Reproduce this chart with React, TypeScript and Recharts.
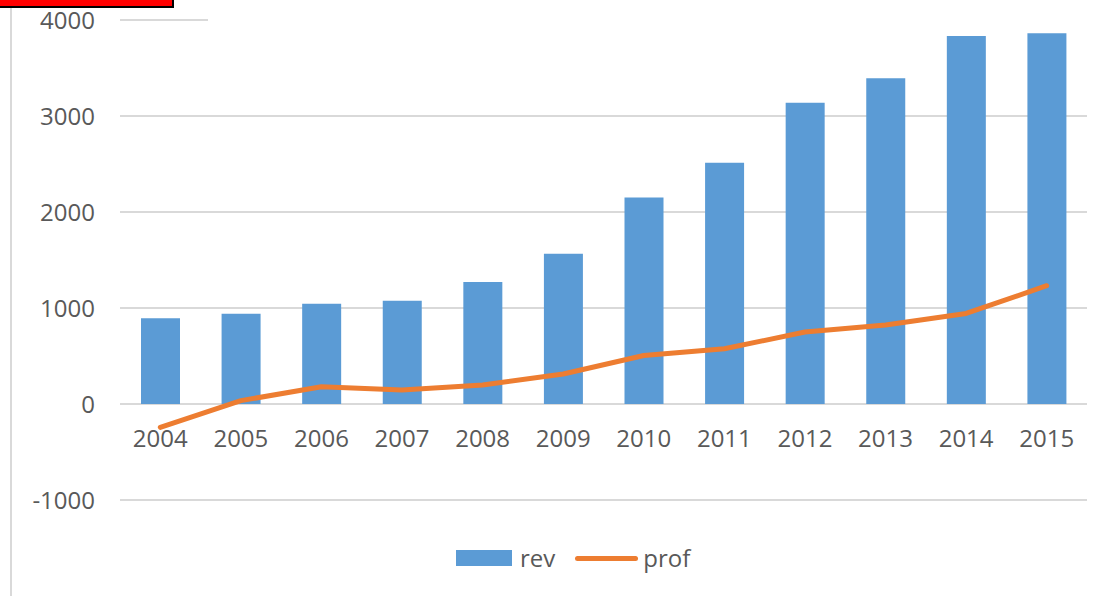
import React from 'react';
import {
  Bar,
  CartesianGrid,
  ComposedChart,
  Line,
  XAxis,
  YAxis,
} from 'recharts';

const years = ['2004', '2005', '2006', '2007', '2008', '2009', '2010', '2011', '2012', '2013', '2014', '2015'];
const rev = [893, 941, 1045, 1075, 1272, 1565, 2150, 2512, 3139, 3393, 3834, 3862];
const prof = [-243, 35, 180, 146, 198, 312, 505, 575, 750, 823, 943, 1232];
const yTicks = [-1000, 0, 1000, 2000, 3000, 4000];

const data = years.map((year, i) => ({ year, rev: rev[i], prof: prof[i] }));

const WIDTH = 1104;
const HEIGHT = 596;
const MARGIN = { top: 20, right: 17, left: 10, bottom: 66 };
const X_AXIS_H = 30;
const Y_MIN = yTicks[0];
const Y_MAX = yTicks[yTicks.length - 1];
const PLOT_H = HEIGHT - MARGIN.top - MARGIN.bottom - X_AXIS_H;
// category labels sit under the zero line, not at the bottom of the plot
const ZERO_SHIFT = (PLOT_H * (0 - Y_MIN)) / (Y_MAX - Y_MIN);

const BLUE = '#5B9BD5';
const ORANGE = '#ED7D31';
const TEXT = '#595959';
const GRID = '#D9D9D9';
const FONT = '"Open Sans", sans-serif';

const CategoryTick = (props: any) => {
  const { x, y, payload } = props;
  return (
    <text
      x={x}
      y={y - ZERO_SHIFT}
      dy="0.71em"
      textAnchor="middle"
      fill={TEXT}
      fontSize={24}
      fontFamily={FONT}
    >
      {payload.value}
    </text>
  );
};

const LegendRow = () => (
  <div
    style={{
      position: 'absolute',
      left: 456,
      top: 540,
      display: 'flex',
      alignItems: 'center',
      fontFamily: FONT,
      fontSize: 24,
      color: TEXT,
      lineHeight: '36px',
    }}
  >
    <span style={{ width: 56, height: 16, background: BLUE, display: 'inline-block' }} />
    <span style={{ marginLeft: 8 }}>rev</span>
    <span
      style={{
        marginLeft: 20,
        width: 63,
        height: 5,
        borderRadius: 3,
        background: ORANGE,
        display: 'inline-block',
      }}
    />
    <span style={{ marginLeft: 5 }}>prof</span>
  </div>
);

export default function App() {
  return (
    <div
      style={{
        position: 'absolute',
        left: 0,
        top: 0,
        width: WIDTH,
        height: HEIGHT,
        background: '#fff',
        overflow: 'hidden',
      }}
    >
      <ComposedChart width={WIDTH} height={HEIGHT} data={data} margin={MARGIN}>
        <CartesianGrid vertical={false} stroke={GRID} strokeWidth={2} />
        <XAxis
          dataKey="year"
          axisLine={false}
          tickLine={false}
          tickSize={0}
          tickMargin={26}
          height={X_AXIS_H}
          interval={0}
          tick={<CategoryTick />}
        />
        <YAxis
          domain={[Y_MIN, Y_MAX]}
          ticks={yTicks}
          axisLine={false}
          tickLine={false}
          tickSize={0}
          tickMargin={25}
          width={110}
          tick={{ fill: TEXT, fontSize: 24, fontFamily: FONT }}
        />
        <Bar dataKey="rev" fill={BLUE} barSize={39} isAnimationActive={false} />
        <Line
          type="linear"
          dataKey="prof"
          stroke={ORANGE}
          strokeWidth={5}
          strokeLinecap="round"
          strokeLinejoin="round"
          dot={false}
          activeDot={false}
          isAnimationActive={false}
        />
      </ComposedChart>
      {/* top gridline only shows near the axis */}
      <div style={{ position: 'absolute', left: 208, top: 14, width: WIDTH - 208, height: 12, background: '#fff' }} />
      {/* chart frame edge */}
      <div style={{ position: 'absolute', left: 10, top: 0, width: 2, height: HEIGHT, background: GRID }} />
      <div
        style={{
          position: 'absolute',
          left: 0,
          top: 0,
          width: 172,
          height: 6,
          background: '#FF0000',
          borderRight: '2px solid #000',
          borderBottom: '2px solid #000',
        }}
      />
      <LegendRow />
    </div>
  );
}
